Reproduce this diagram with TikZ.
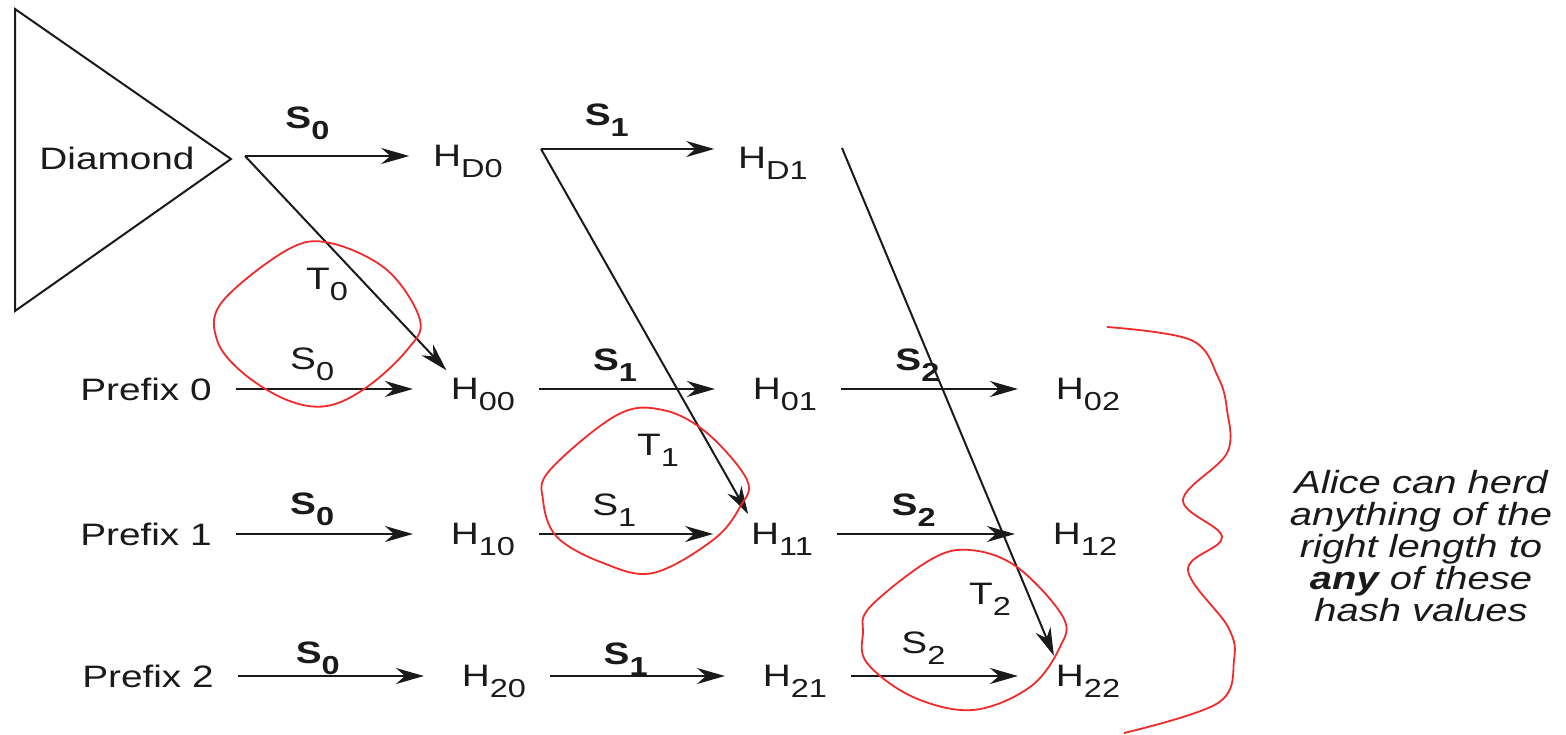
\documentclass[tikz,border=0pt]{standalone}
\usepackage{fontspec}
\setmainfont[FakeStretch=1.25]{Liberation Sans}
\usepackage{tikz}
\usetikzlibrary{arrows.meta}
\definecolor{penRed}{HTML}{F02A2A}
\definecolor{inkBlack}{HTML}{1A1A1A}
\newcommand{\lo}[1]{\raisebox{-11pt}{\fontsize{26}{26}\selectfont #1}}
\newcommand{\hv}[1]{H\smash{\lo{#1}}}
\tikzset{
  txt/.style  = {font=\fontsize{31}{36}\selectfont, text=inkBlack, inner sep=2pt, outer xsep=22pt},
  lbl/.style  = {font=\fontsize{31}{36}\selectfont, text=inkBlack, inner sep=1pt},
  note/.style = {font=\fontsize{32}{32}\selectfont\itshape, text=inkBlack, align=center},
  edge/.style = {draw=inkBlack, line width=2pt},
  fl/.style   = {-{Stealth[length=28pt, width=16pt, inset=9pt]}, draw=inkBlack, line width=2pt, shorten >=14pt},
  fd/.style   = {fl, shorten >=0pt},
  tl/.style   = {fl, shorten >=8pt},
  ring/.style = {draw=penRed, line width=1.8pt}
}
\begin{document}
\begin{tikzpicture}[x=1pt, y=-1pt]
  \useasboundingbox (0,0) rectangle (1566,735);

  % the diamond
  \draw[edge] (15,9) -- (231,159) -- (15,311) -- cycle;
  \node[txt] (dia) at (117,158) {Diamond};
  \coordinate (fd0) at (245,156);
  \coordinate (fd1) at (541,149);
  \coordinate (fd2) at (842,148);
  \node[txt] (hd0) at (468,156) {\hv{D0}};
  \node[txt] (hd1) at (773,158) {\hv{D1}};

  % prefixes and hash chains
  \node[txt] (p0)  at (146,389)  {Prefix 0};
  \node[txt] (h00) at (483,389)  {\hv{00}};
  \node[txt] (h01) at (785,389)  {\hv{01}};
  \node[txt] (h02) at (1088,389) {\hv{02}};

  \node[txt] (p1)  at (146,534)  {Prefix 1};
  \node[txt] (h10) at (483,534)  {\hv{10}};
  \node[txt] (h11) at (782,534)  {\hv{11}};
  \node[txt] (h12) at (1085,534) {\hv{12}};

  \node[txt] (p2)  at (148,676)  {Prefix 2};
  \node[txt] (h20) at (494,676)  {\hv{20}};
  \node[txt] (h21) at (795,676)  {\hv{21}};
  \node[txt] (h22) at (1088,676) {\hv{22}};

  \draw[fd] (fd0) -- (hd0) node[lbl, pos=.38, above=14pt] (ld0) {\textbf{S\lo{0}}};
  \draw[fd] (fd1) -- (fd1 -| hd1.west) node[lbl, pos=.38, above=10pt] (ld1) {\textbf{S\lo{1}}};

  \draw[fl] (p0)  -- (h00) node[lbl, pos=.4, above=6pt] (l00) {S\lo{0}};
  \draw[fl] (h00) -- (h01) node[lbl, pos=.4, above=6pt] (l01) {\textbf{S\lo{1}}};
  \draw[fl] (h01) -- (h02) node[lbl, pos=.4, above=6pt] (l02) {\textbf{S\lo{2}}};

  \draw[fl] (p1)  -- (h10) node[lbl, pos=.4, above=6pt] (l10) {\textbf{S\lo{0}}};
  \draw[fl] (h10) -- (h11) node[lbl, pos=.4, above=6pt] (l11) {S\lo{1}};
  \draw[fl] (h11) -- (h12) node[lbl, pos=.4, above=6pt] (l12) {\textbf{S\lo{2}}};

  \draw[fl] (p2)  -- (h20) node[lbl, pos=.4, above=-1pt] (l20) {\textbf{S\lo{0}}};
  \draw[fl] (h20) -- (h21) node[lbl, pos=.4, above=-1pt] (l21) {\textbf{S\lo{1}}};
  \draw[fl] (h21) -- (h22) node[lbl, pos=.4, above=10pt] (l22) {S\lo{2}};

  % herding steps
  \draw[tl] (fd0) -- ([xshift=25pt]h00.north west);
  \draw[tl] (fd1) -- ([xshift=25pt]h11.north west);
  \draw[tl] (fd2) -- ([xshift=25pt]h22.north west);
  \node[lbl] (t0) at (327,284) {T\lo{0}};
  \node[lbl] (t1) at (658,450) {T\lo{1}};
  \node[lbl] (t2) at (990,599) {T\lo{2}};

  % red pen marks
  \draw[ring] plot[smooth cycle, tension=.6] coordinates {(222,302) (287,250) (330,243) (387,270) (420,320)
    (407,350) (367,387) (327,406) (287,400) (243,373) (217,340)};
  \draw[ring] plot[smooth cycle, tension=.6] coordinates {(550,470) (617,415) (663,410) (707,433) (747,480)
    (740,507) (713,540) (653,573) (603,563) (557,537) (543,500)};
  \draw[ring] plot[smooth cycle, tension=.6] coordinates {(870,607) (930,560) (970,550) (1017,567) (1063,617)
    (1060,647) (1030,687) (973,710) (913,697) (867,663) (863,633)};
  \draw[ring] plot[smooth, tension=.6] coordinates {(1107,327) (1191,340) (1218,377) (1227,410) (1227,453)
    (1183,500) (1222,537) (1188,570) (1228,627) (1234,660) (1218,703) (1124,733)};

  \node[note] (alice) at (1421,546) {Alice can herd\\anything of the\\right length to\\\textbf{any} of these\\hash values};
\end{tikzpicture}
\end{document}
